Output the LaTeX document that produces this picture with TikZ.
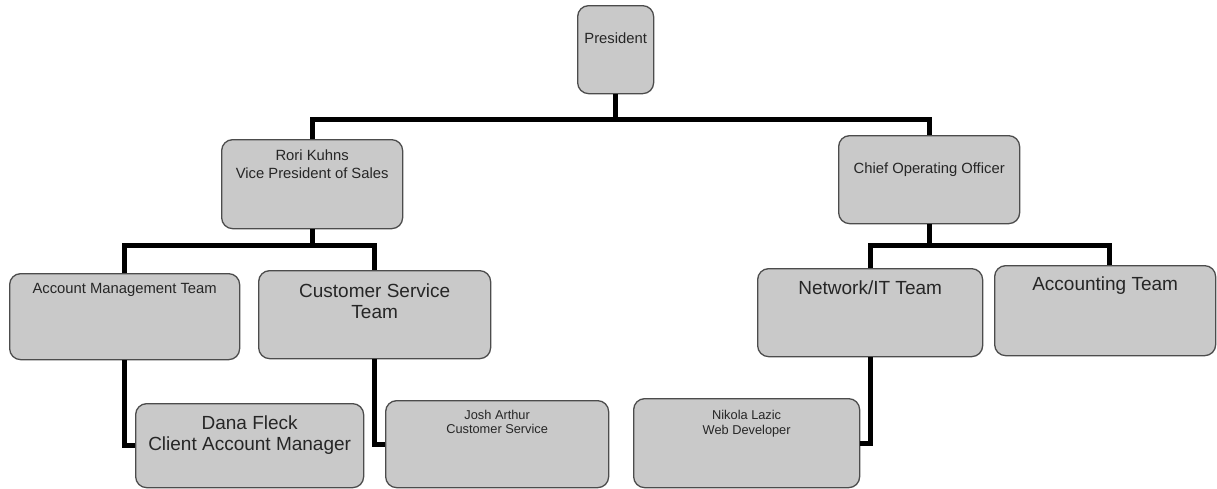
\documentclass[tikz,border=0pt]{standalone}
\usepackage{fontspec}
\setmainfont{Liberation Sans}
\usepackage{tikz}

\begin{document}
\begin{tikzpicture}[x=1pt,y=-1pt]
    \newcommand{\unittext}[5]{\parbox[c][#2pt][t]{#1pt}{\centering\vspace*{#3pt}#4#5\par}}
    \newcommand{\fontbig}{\fontsize{19}{21.5}\selectfont}
    \newcommand{\fontmid}{\fontsize{14.8}{18}\selectfont}
    \newcommand{\fontsml}{\fontsize{12.8}{14.5}\selectfont}
    \tikzstyle{link} = [line width=5pt,draw=black,line join=miter]
    \tikzstyle{unit}=[
      draw=black!70,
      fill=black!21,
      line width=1.3pt,
      rounded corners=11pt,
      inner sep=0pt,
      anchor=north west,
      text=black!85
    ]

    \useasboundingbox (0,0) rectangle (1217,488);

    \node[unit] (president) at (577,5) {\unittext{76}{88}{27.5}{\fontmid}{President}};
    \node[unit] (vp sales) at (221,139) {\unittext{181}{89}{10.5}{\fontmid}{Rori Kuhns\\Vice President of Sales}};
    \node[unit] (coo) at (838,135) {\unittext{181}{88}{27.5}{\fontmid}{Chief Operating Officer}};
    \node[unit] (account team) at (9,273) {\unittext{230}{86}{9.5}{\fontmid}{Account Management Team}};
    \node[unit] (service team) at (258,270) {\unittext{232}{88}{13}{\fontbig}{Customer Service\\Team}};
    \node[unit] (network team) at (757,268) {\unittext{225}{88}{12}{\fontbig}{Network/IT Team}};
    \node[unit] (accounting team) at (994,265) {\unittext{221}{90}{11}{\fontbig}{Accounting Team}};
    \node[unit] (dana) at (135,403) {\unittext{228}{84}{12}{\fontbig}{Dana Fleck\\Client Account Manager}};
    \node[unit] (josh) at (385,400) {\unittext{223}{87}{9.5}{\fontsml}{Josh Arthur\\Customer Service}};
    \node[unit] (nikola) at (633,398) {\unittext{226}{89}{12}{\fontsml}{Nikola Lazic\\Web Developer}};

    \coordinate (top bus) at (0,119);
    \coordinate (sales bus) at (0,245);
    \coordinate (ops bus) at (0,245);

    \draw[link] (president.south)--(president.south |- top bus);
    \draw[link] (vp sales.north)--(vp sales.north |- top bus)--(coo.north |- top bus)--(coo.north);
    \draw[link] (vp sales.south)--(vp sales.south |- sales bus);
    \draw[link] (account team.north)--(account team.north |- sales bus)--(service team.north |- sales bus)--(service team.north);
    \draw[link] (coo.south)--(coo.south |- ops bus);
    \draw[link] (network team.north)--(network team.north |- ops bus)--([xshift=4pt]accounting team.north |- ops bus)--([xshift=4pt]accounting team.north);
    \draw[link] (account team.south) |- (dana.west);
    \draw[link] (service team.south) |- (josh.west);
    \draw[link] (network team.south) |- (nikola.east);
  \end{tikzpicture}
\end{document}
